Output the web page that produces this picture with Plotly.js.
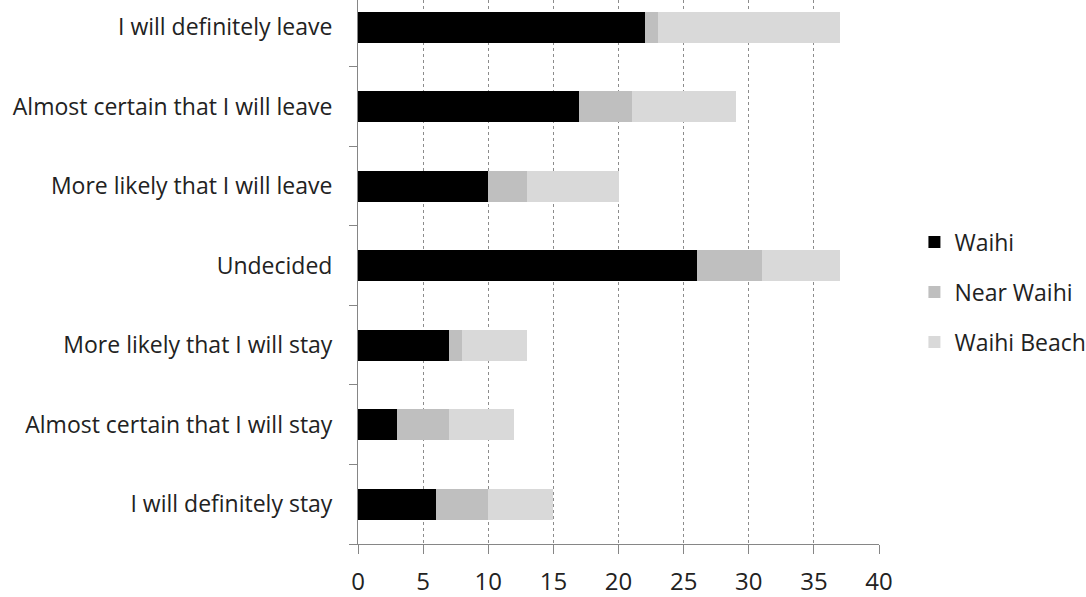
<!DOCTYPE html>
<html>
<head>
<meta charset="utf-8">
<script src="https://cdn.plot.ly/plotly-3.0.1.min.js"></script>
<style>
  html, body { margin: 0; padding: 0; background: #ffffff; }
  #chart { width: 1086px; height: 597px; }
</style>
</head>
<body>
<div id="chart"></div>
<script>
// Intentions to stay or leave, by area of residence (stacked counts)
const categories = [
  "I will definitely stay",
  "Almost certain that I will stay",
  "More likely that I will stay",
  "Undecided",
  "More likely that I will leave",
  "Almost certain that I will leave",
  "I will definitely leave"
];
const waihi      = [6, 3, 7, 26, 10, 17, 22];
const nearWaihi  = [4, 4, 1, 5, 3, 4, 1];
const waihiBeach = [5, 5, 5, 6, 7, 8, 14];

const xTicks = [0, 5, 10, 15, 20, 25, 30, 35, 40];

const seriesNames  = ["Waihi", "Near Waihi", "Waihi Beach"];
const seriesValues = [waihi, nearWaihi, waihiBeach];
const seriesColors = ["#000000", "#bfbfbf", "#d9d9d9"];

const FONT = "'Open Sans', 'Noto Sans', sans-serif";
const TEXT = "#222222";

const traces = seriesNames.map((name, i) => ({
  type: "bar",
  orientation: "h",
  name: name,
  x: seriesValues[i],
  y: categories,
  legendgroup: "g" + i,
  marker: { color: seriesColors[i], line: { width: 0 } },
  hoverinfo: "x+y+name"
}));

const layout = {
  width: 1086,
  height: 597,
  margin: { l: 358, r: 207, t: 0, b: 53, pad: 0, autoexpand: false },
  paper_bgcolor: "#ffffff",
  plot_bgcolor: "#ffffff",
  barmode: "stack",
  bargap: 0.61,
  font: { family: FONT, size: 23, color: TEXT },
  showlegend: true,
  legend: {
    x: 1.068, xanchor: "left",
    y: 0.463, yanchor: "middle",
    traceorder: "grouped",
    tracegroupgap: 17,
    font: { family: FONT, size: 23, color: TEXT },
    bgcolor: "rgba(0,0,0,0)"
  },
  xaxis: {
    range: [0, 40],
    tickvals: xTicks,
    ticktext: xTicks.map(String),
    showgrid: true,
    gridcolor: "#8c8c8c",
    griddash: "dot",
    gridwidth: 1,
    zeroline: false,
    showline: true,
    linecolor: "#868686",
    linewidth: 1,
    ticks: "outside",
    ticklen: 9,
    tickcolor: "#868686",
    ticklabelstandoff: 7,
    tickfont: { family: FONT, size: 24, color: TEXT },
    fixedrange: true
  },
  yaxis: {
    type: "category",
    categoryorder: "array",
    categoryarray: categories,
    range: [-0.5, 6.34],
    showgrid: false,
    zeroline: false,
    showline: true,
    linecolor: "#868686",
    linewidth: 1,
    ticks: "outside",
    tickson: "boundaries",
    ticklen: 8,
    tickcolor: "#868686",
    ticklabelstandoff: 20,
    tickfont: { family: FONT, size: 23, color: TEXT },
    fixedrange: true
  }
};

Plotly.newPlot("chart", traces, layout, { displayModeBar: false, staticPlot: true });
</script>
</body>
</html>
